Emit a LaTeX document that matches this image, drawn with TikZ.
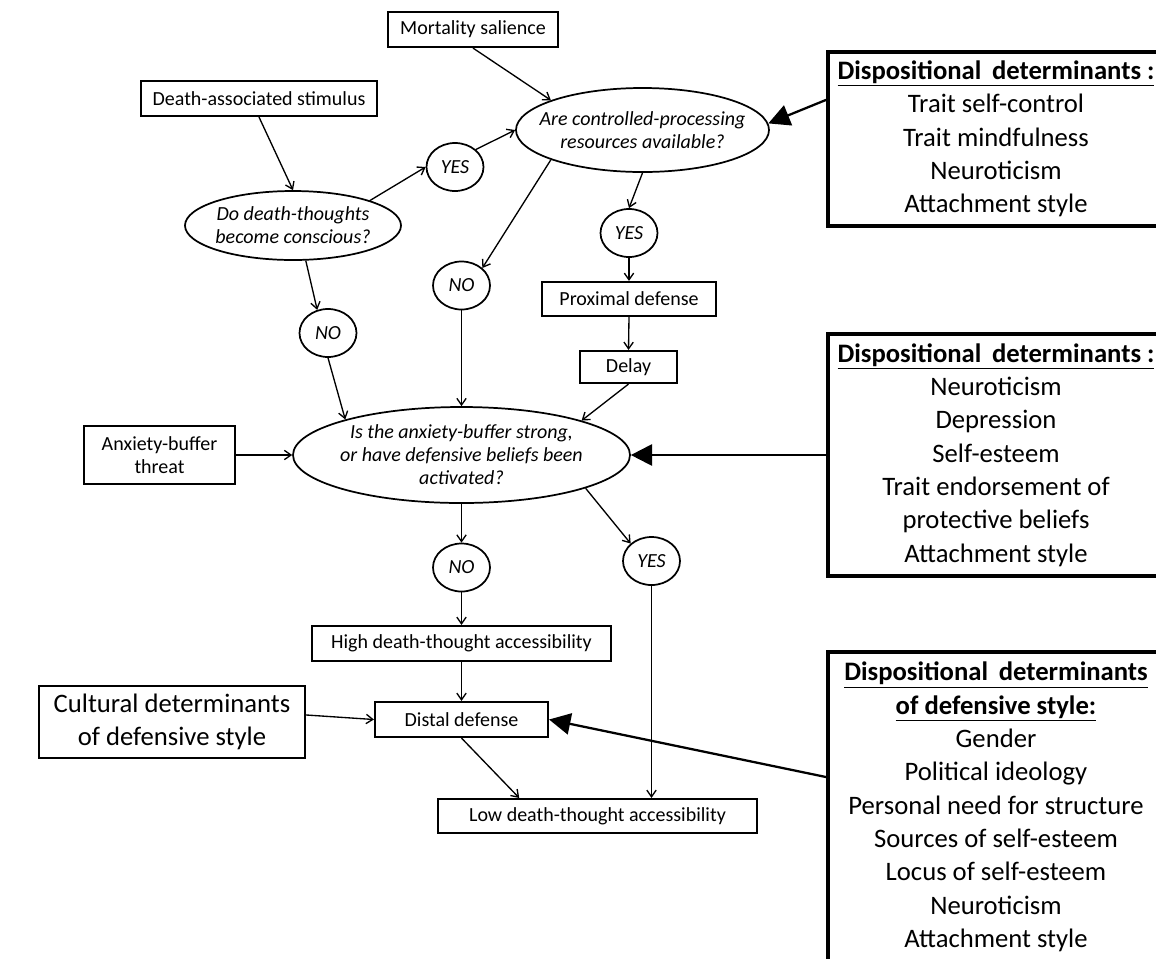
\documentclass[tikz,border=0pt]{standalone}
\usepackage{fontspec}
\setmainfont{Carlito}
\usetikzlibrary{shapes.geometric,arrows.meta}

\begin{document}
\begin{tikzpicture}
  [x=.75pt,y=-.75pt,
   every node/.style={font=\fontsize{15}{17.25}\selectfont,align=center},
   >={Straight Barb[length=5pt,width=7pt]}]
  \tikzstyle{box} = [draw,rectangle,line width=1.6pt,inner sep=0pt]
  \tikzstyle{query} = [draw,ellipse,line width=1.3pt,inner xsep=-12pt,inner ysep=0pt,font=\fontsize{15}{17.25}\selectfont\itshape]
  \tikzstyle{answer} = [draw,ellipse,line width=1.3pt,inner sep=0pt,minimum width=42.75pt,minimum height=36pt,font=\fontsize{15}{17.25}\selectfont\itshape]
  \tikzstyle{traits} = [draw,rectangle,line width=2.6pt,inner sep=0pt,minimum width=252pt,font=\fontsize{20}{25}\selectfont]
  \tikzstyle{link} = [->,line width=1pt]
  \tikzstyle{heavy} = [-{Triangle[length=16pt,width=16pt]},line width=1.7pt]
  \useasboundingbox (0,0) rectangle (1156,958);
  % flow chart
  \node[box,minimum width=127.5pt,minimum height=26.25pt] (ms) at (473,29.5) {Mortality salience};
  \node[box,minimum width=177pt,minimum height=26.25pt] (das) at (259,98.5) {Death-associated stimulus};
  \node[query,minimum width=162pt,minimum height=51.75pt] (q1) at (293,225.5) {Do death-thoughts\\become conscious?};
  \node[answer] (y1) at (455,167) {YES};
  \node[query,minimum width=189.75pt,minimum height=63pt] (q2) at (642.5,130) {Are controlled-processing\\resources available?};
  \node[answer] (n1) at (461.5,285.5) {NO};
  \node[answer] (y2) at (629,233) {YES};
  \node[box,minimum width=130.5pt,minimum height=25.5pt] (pd) at (629,299) {Proximal defense};
  \node[box,minimum width=72.75pt,minimum height=24pt] (dl) at (628.5,367) {Delay};
  \node[answer] (n2) at (328,333) {NO};
  \node[box,minimum width=113.25pt,minimum height=43.5pt] (abt) at (159.5,455) {Anxiety-buffer\\threat};
  \node[query,minimum width=252.75pt,minimum height=72pt] (q3) at (461.5,455) {Is the anxiety-buffer strong,\\or have defensive beliefs been\\activated?};
  \node[answer] (n3) at (461.5,567.5) {NO};
  \node[answer] (y3) at (651.5,561) {YES};
  \node[box,minimum width=224.25pt,minimum height=26.25pt] (hi) at (461.5,643.5) {High death-thought accessibility};
  \node[box,minimum width=199.5pt,minimum height=54pt,font=\fontsize{20}{25}\selectfont] (cd) at (172,722) {Cultural determinants\\of defensive style};
  \node[box,minimum width=129.75pt,minimum height=26.25pt] (dd) at (461.5,719.5) {Distal defense};
  \node[box,minimum width=239.25pt,minimum height=25.5pt] (lo) at (597.5,816) {Low death-thought accessibility};
  % moderators
  \node[traits,minimum height=130.5pt] (dA) at (996,139) {\underline{\textbf{Dispositional\hspace{.4em}determinants :}}\\Trait self-control\\Trait mindfulness\\Neuroticism\\Attachment style};
  \node[traits,minimum height=181.5pt] (dB) at (996,455) {\underline{\textbf{Dispositional\hspace{.4em}determinants :}}\\Neuroticism\\Depression\\Self-esteem\\Trait endorsement of\\protective beliefs\\Attachment style};
  \node[traits,minimum height=232.5pt] (dC) at (996,807) {\underline{\textbf{Dispositional\hspace{.4em}determinants}}\\\underline{\textbf{of defensive style:}}\\Gender\\Political ideology\\Personal need for structure\\Sources of self-esteem\\Locus of self-esteem\\Neuroticism\\Attachment style};

  \foreach \source/\dest in {das.south/q1.north,ms.south/q2.162,q1.18/y1.west,y1.40/q2.west,q2.198/n1.40,q1.290/n2.115,n2.south/q3.163,n1.south/q3.north,q2.south/y2.north,y2.south/pd.north,pd.south/dl.north,dl.south/q3.16,abt.east/q3.west,q3.south/n3.north,q3.345/y3.140,n3.south/hi.north,hi.south/dd.north,cd.3/dd.west,dd.south/lo.167}
   \draw[link] (\source) -- (\dest);
  \draw[link] (y3.south) -- (y3.south |- lo.north);
  \foreach \source/\dest in {dA.167/q2.3,dB.west/q3.east,dC.170/dd.east}
   \draw[heavy] (\source) -- (\dest);
\end{tikzpicture}
\end{document}
